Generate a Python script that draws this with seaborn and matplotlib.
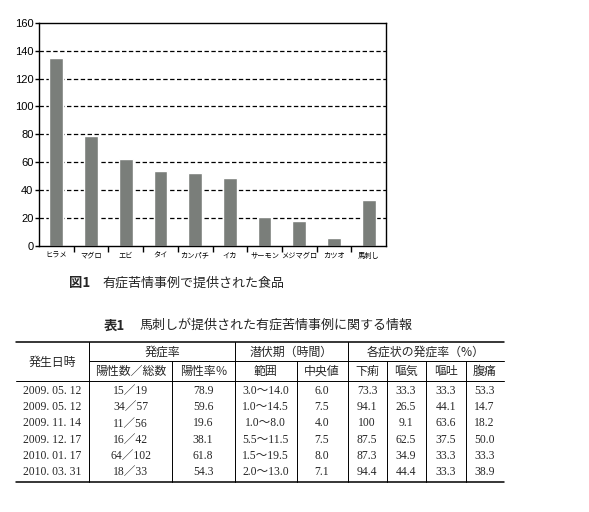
import matplotlib
matplotlib.use('Agg')
import matplotlib.pyplot as plt
import seaborn as sns

# 図1 data
foods = ['ヒラメ', 'マグロ', 'エビ', 'タイ', 'カンパチ', 'イカ', 'サーモン', 'メジマグロ', 'カツオ', '馬刺し']
counts = [135, 79, 62, 54, 52, 49, 21, 18, 6, 33]
y_ticks = [0, 20, 40, 60, 80, 100, 120, 140, 160]

# 表1 data
dates = ['2009. 05. 12', '2009. 05. 12', '2009. 11. 14', '2009. 12. 17', '2010. 01. 17', '2010. 03. 31']
positives = ['15／19', '34／57', '11／56', '16／42', '64／102', '18／33']
pos_rate = ['78.9', '59.6', '19.6', '38.1', '61.8', '54.3']
incub_range = ['3.0〜14.0', '1.0〜14.5', '1.0〜8.0', '5.5〜11.5', '1.5〜19.5', '2.0〜13.0']
incub_median = ['6.0', '7.5', '4.0', '7.5', '8.0', '7.1']
diarrhea = ['73.3', '94.1', '100', '87.5', '87.3', '94.4']
nausea = ['33.3', '26.5', '9.1', '62.5', '34.9', '44.4']
vomiting = ['33.3', '44.1', '63.6', '37.5', '33.3', '33.3']
abdominal = ['53.3', '14.7', '18.2', '50.0', '33.3', '38.9']

sns.set_theme(style='white')
plt.rcParams['font.family'] = ['Liberation Sans', 'Noto Sans CJK JP']

W, H = 589, 512
fig = plt.figure(figsize=(W / 100, H / 100), dpi=100)
fig.patch.set_facecolor('white')

# bar chart
ax = fig.add_axes([39 / W, 1 - 246 / H, (386 - 39) / W, (246 - 22.7) / H])
sns.barplot(x=foods, y=counts, color='#7a7e7a', saturation=1, width=0.4, ax=ax)
ax.set_ylim(0, 160)
ax.set_xlim(-0.5, len(foods) - 0.5)
ax.set_yticks(y_ticks)
ax.set_yticklabels([str(v) for v in y_ticks], fontsize=8, color='black')
for v in y_ticks[1:-1]:
    ax.axhline(v, color='black', lw=0.9, linestyle=(0, (3.5, 2)), zorder=0.5)
for s in ax.spines.values():
    s.set_color('black')
    s.set_linewidth(1.0)
ax.tick_params(axis='y', direction='out', length=3, width=1, color='black', pad=1, left=True)
ax.tick_params(axis='x', which='major', length=0, pad=4)
ax.set_xticks([i + 0.5 for i in range(len(foods) - 1)], minor=True)
ax.tick_params(axis='x', which='minor', direction='out', length=4, width=1, color='black', bottom=True)
for lab in ax.get_xticklabels():
    lab.set_fontfamily(['Noto Sans CJK JP'])
    lab.set_fontsize(5.2)
    lab.set_color('black')
ax.set_xlabel('')
ax.set_ylabel('')

# overlay in pixel coordinates for caption and table
ov = fig.add_axes([0, 0, 1, 1])
ov.set_xlim(0, W)
ov.set_ylim(H, 0)
ov.axis('off')

cjk = ['Noto Sans CJK JP']
serif = ['Liberation Serif', 'Noto Sans CJK JP']

ov.text(69, 283.5, '図1', fontfamily=cjk, fontweight='bold', fontsize=9.6, va='center', ha='left')
ov.text(102.7, 283.5, '有症苦情事例で提供された食品', fontfamily=cjk, fontsize=9.4, va='center', ha='left')
ov.text(104, 325.5, '表1', fontfamily=cjk, fontweight='bold', fontsize=9.6, va='center', ha='left')
ov.text(139.3, 325.5, '馬刺しが提供された有症苦情事例に関する情報', fontfamily=cjk, fontsize=9.4,
        va='center', ha='left')

x_left, x_right = 15.7, 504.3
y_top, y_mid1, y_mid2, y_bot = 341.7, 361, 381, 482.3
ov.plot([x_left, x_right], [y_top, y_top], color='black', lw=1.1)
ov.plot([89, x_right], [y_mid1, y_mid1], color='black', lw=0.7)
ov.plot([x_left, x_right], [y_mid2, y_mid2], color='black', lw=0.7)
ov.plot([x_left, x_right], [y_bot, y_bot], color='black', lw=1.1)
for xv in [89, 234.7, 347.7]:
    ov.plot([xv, xv], [y_top, y_bot], color='black', lw=0.7)
for xv in [172.3, 296.7, 386.7, 425.7, 466]:
    ov.plot([xv, xv], [y_mid1, y_bot], color='black', lw=0.7)

hfs = 8.6
ov.text(52, 362, '発生日時', fontfamily=cjk, fontsize=hfs, ha='center', va='center')
ov.text(162, 352, '発症率', fontfamily=cjk, fontsize=hfs, ha='center', va='center')
ov.text(291, 352, '潜伏期（時間）', fontfamily=cjk, fontsize=hfs, ha='center', va='center')
ov.text(426, 352, '各症状の発症率（%）', fontfamily=cjk, fontsize=hfs, ha='center', va='center')
sub_heads = [('陽性数／総数', 130.7), ('陽性率％', 203.5), ('範囲', 265.7), ('中央値', 322),
             ('下痢', 367), ('嘔気', 406), ('嘔吐', 445.7), ('腹痛', 484.3)]
for txt, xc in sub_heads:
    ov.text(xc, 371.5, txt, fontfamily=cjk, fontsize=hfs, ha='center', va='center')

row_y = [391, 407.3, 423.5, 439.7, 456, 472.2]
dfs = 8.4
for i, yy in enumerate(row_y):
    ov.text(52, yy, dates[i], fontfamily=serif, fontsize=dfs, ha='center', va='center')
    ov.text(130.7, yy, positives[i], fontfamily=serif, fontsize=dfs, ha='center', va='center')
    ov.text(213.3, yy, pos_rate[i], fontfamily=serif, fontsize=dfs, ha='right', va='center')
    ov.text(265.7, yy, incub_range[i], fontfamily=serif, fontsize=dfs, ha='center', va='center')
    ov.text(322, yy, incub_median[i], fontfamily=serif, fontsize=dfs, ha='center', va='center')
    ov.text(367, yy, diarrhea[i], fontfamily=serif, fontsize=dfs, ha='center', va='center')
    ov.text(406, yy, nausea[i], fontfamily=serif, fontsize=dfs, ha='center', va='center')
    ov.text(445.7, yy, vomiting[i], fontfamily=serif, fontsize=dfs, ha='center', va='center')
    ov.text(484.3, yy, abdominal[i], fontfamily=serif, fontsize=dfs, ha='center', va='center')

fig.savefig('out.png', dpi=100, facecolor='white')
